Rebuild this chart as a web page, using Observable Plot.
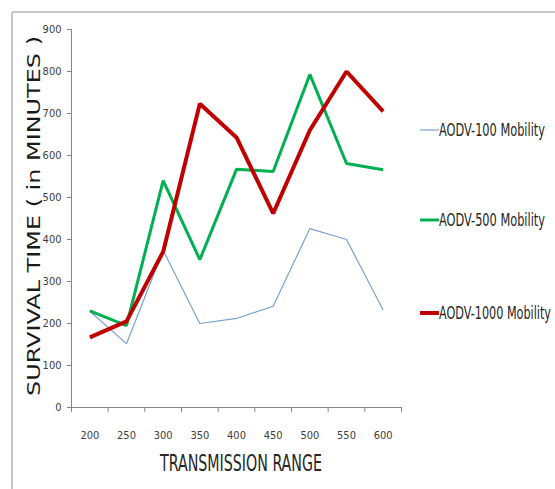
<!DOCTYPE html>
<html>
<head>
<meta charset="utf-8">
<script src="https://cdn.jsdelivr.net/npm/d3@7"></script>
<script src="https://cdn.jsdelivr.net/npm/@observablehq/plot@0.6"></script>
<style>
  html, body { margin: 0; padding: 0; background: #fff; }
  #chart svg { display: block; }
</style>
</head>
<body>
<div id="chart"></div>
<script>
// Transmission range categories (x axis)
const ranges = [200, 250, 300, 350, 400, 450, 500, 550, 600];

// Survival time in minutes for each mobility setting
const aodv100 = [229, 152, 374, 200, 212, 241, 426, 400, 232];
const aodv500 = [230, 195, 540, 352, 567, 562, 793, 581, 566];
const aodv1000 = [167, 205, 371, 723, 643, 462, 660, 800, 705];

const seriesNames = ["AODV-100 Mobility", "AODV-500 Mobility", "AODV-1000 Mobility"];
const seriesValues = [aodv100, aodv500, aodv1000];
const seriesColors = ["#7AA0D4", "#00B050", "#C00000"];
const seriesWidths = [1.2, 3, 4];

const yTicks = [0, 100, 200, 300, 400, 500, 600, 700, 800, 900];
// category boundaries, where the x-axis tick marks sit
const xBounds = [175, 225, 275, 325, 375, 425, 475, 525, 575, 625];

const rows = seriesNames.flatMap((name, i) =>
  ranges.map((r, j) => ({series: name, range: r, value: seriesValues[i][j]}))
);

const narrow = "'Liberation Sans Narrow', 'DejaVu Sans Condensed', 'Arial Narrow', sans-serif";

const W = 555, H = 489;
const mLeft = 71, mTop = 29, mRight = 154, mBottom = 82;

const chart = Plot.plot({
  width: W,
  height: H,
  marginLeft: mLeft,
  marginTop: mTop,
  marginRight: mRight,
  marginBottom: mBottom,
  style: {fontFamily: narrow, fontSize: "11px", color: "#404040", background: "#fff"},
  x: {type: "linear", domain: [175, 625]},
  y: {domain: [0, 900]},
  marks: [
    Plot.axisY({ticks: yTicks, tickSize: 4, tickPadding: 6, label: null, stroke: "#868686", fill: "#404040"}),
    Plot.axisX({ticks: xBounds, tickSize: 5, tickFormat: () => "", label: null, stroke: "#868686"}),
    Plot.axisX({ticks: ranges, tickSize: 0, tickPadding: 24, label: null, fill: "#404040"}),
    Plot.ruleX([175], {y1: 0, y2: 900, stroke: "#868686"}),
    Plot.ruleY([0], {x1: 175, x2: 625, stroke: "#868686"}),
    ...seriesNames.map((name, i) =>
      Plot.line(rows.filter(d => d.series === name), {
        x: "range", y: "value",
        stroke: seriesColors[i], strokeWidth: seriesWidths[i],
        strokeLinejoin: "miter", strokeLinecap: "butt"
      })
    )
  ]
});

document.getElementById("chart").append(chart);

const svg = d3.select(chart);

// outer frame (top and left edges)
svg.append("line").attr("x1", 12).attr("y1", 12).attr("x2", W).attr("y2", 12)
  .attr("stroke", "#c8c8c8").attr("stroke-width", 2);
svg.append("line").attr("x1", 12).attr("y1", 12).attr("x2", 12).attr("y2", H)
  .attr("stroke", "#c8c8c8").attr("stroke-width", 2);

// y-axis title
svg.append("text")
  .attr("transform", "translate(40,216) rotate(-90)")
  .attr("text-anchor", "middle")
  .attr("font-family", "'DejaVu Sans', sans-serif")
  .attr("font-size", 18)
  .attr("fill", "#1a1a1a")
  .attr("textLength", 360)
  .attr("lengthAdjust", "spacingAndGlyphs")
  .text("SURVIVAL TIME ( in MINUTES )");

// x-axis title
svg.append("text")
  .attr("x", 241).attr("y", 471)
  .attr("text-anchor", "middle")
  .attr("font-family", narrow)
  .attr("font-size", 23)
  .attr("fill", "#262626")
  .attr("textLength", 162)
  .attr("lengthAdjust", "spacingAndGlyphs")
  .text("TRANSMISSION RANGE");

// legend
const legendY = [130, 220, 313];
const legendLen = [106, 106, 112];
seriesNames.forEach((name, i) => {
  svg.append("line")
    .attr("x1", 420).attr("x2", 439)
    .attr("y1", legendY[i]).attr("y2", legendY[i])
    .attr("stroke", seriesColors[i]).attr("stroke-width", seriesWidths[i]);
  svg.append("text")
    .attr("x", 439).attr("y", legendY[i] + 6)
    .attr("text-anchor", "start")
    .attr("font-family", narrow)
    .attr("font-size", 17)
    .attr("fill", "#262626")
    .attr("textLength", legendLen[i])
    .attr("lengthAdjust", "spacingAndGlyphs")
    .text(name);
});
</script>
</body>
</html>
